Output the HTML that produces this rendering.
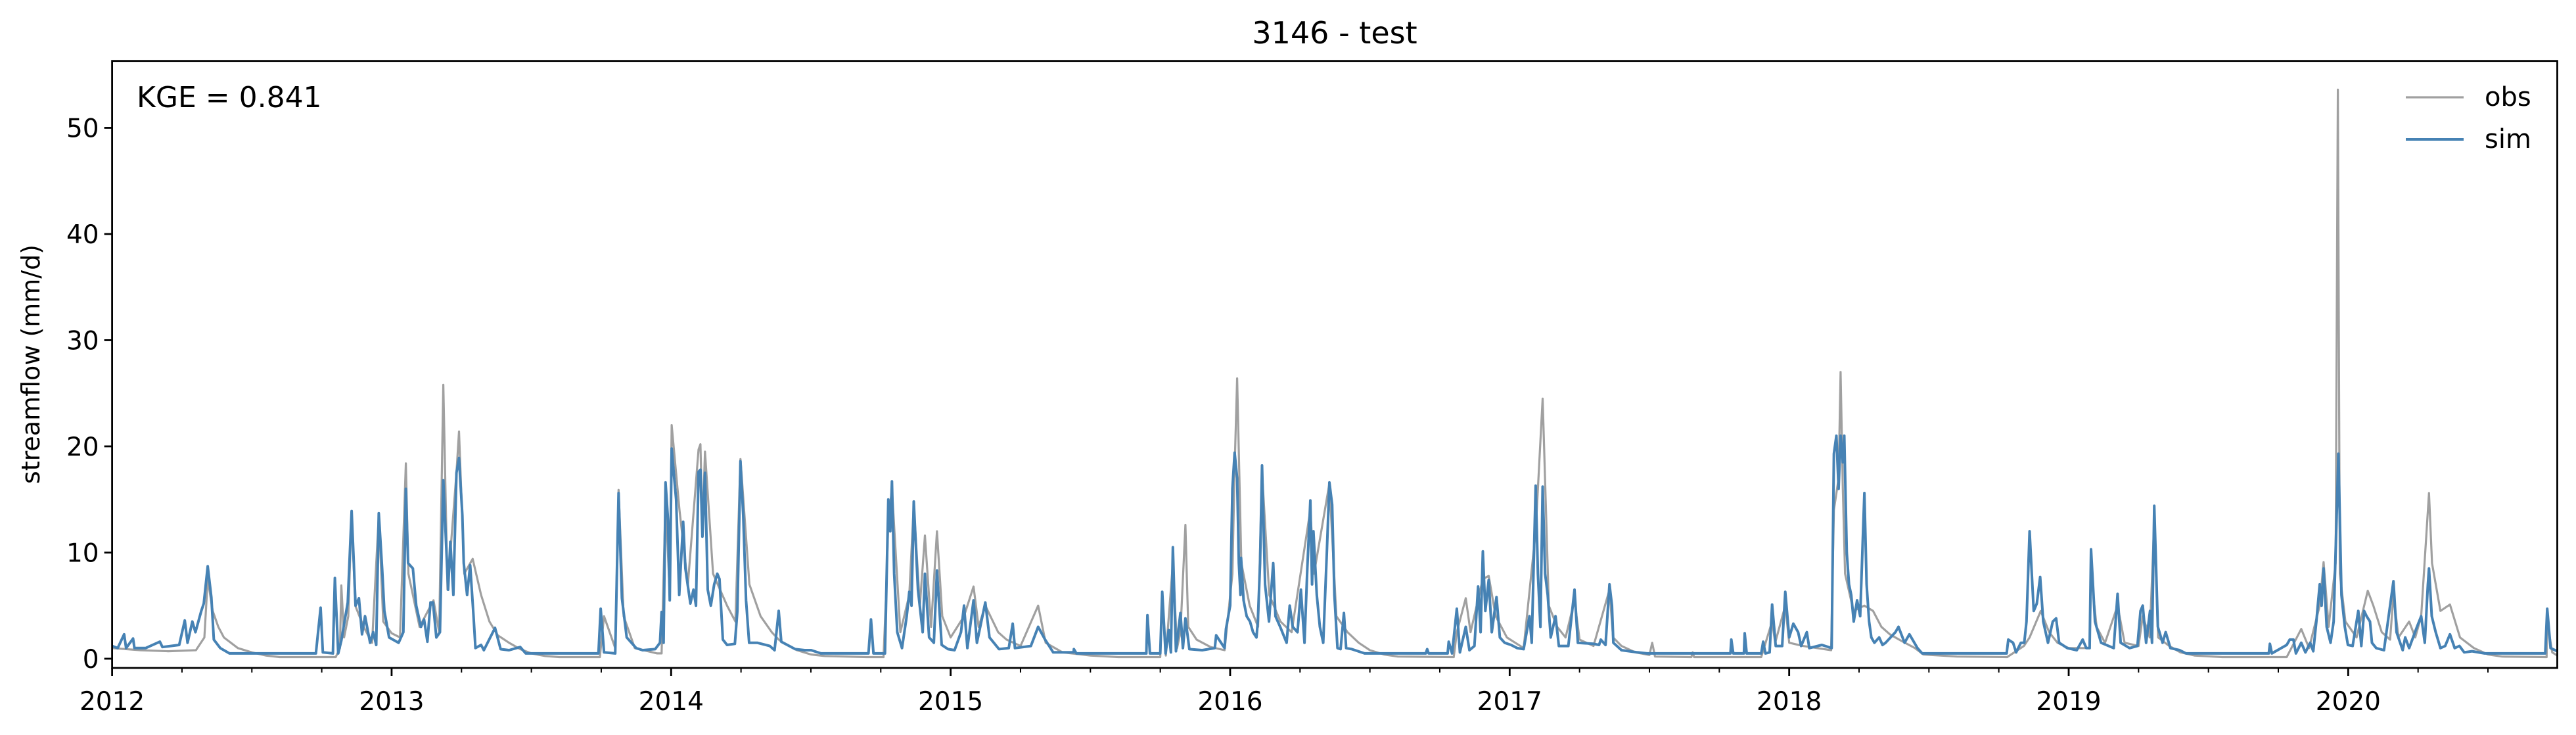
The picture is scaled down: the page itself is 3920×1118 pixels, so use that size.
<!DOCTYPE html>
<html><head><meta charset="utf-8"><title>3146 - test</title>
<style>
html,body{margin:0;padding:0;background:#fff;}
svg{display:block;font-family:"DejaVu Sans","Liberation Sans",sans-serif;}
</style></head>
<body>
<svg id="chart" width="3920" height="1118" viewBox="0 0 3920 1118" xmlns="http://www.w3.org/2000/svg">
<rect width="3920" height="1118" fill="#fff"/>
<text x="2031" y="66" font-size="46" text-anchor="middle" fill="#000">3146 - test</text>
<text transform="translate(60,554) rotate(-90)" font-size="38" text-anchor="middle" fill="#000">streamflow (mm/d)</text>
<g id="plot"></g>
<g id="axes"></g>
<text x="208" y="163" font-size="44" fill="#000">KGE = 0.841</text>
<g>
<g><line x1="3661" y1="148" x2="3749" y2="148" stroke="#a0a0a0" stroke-width="3.2"/><text x="3781" y="161" font-size="40" fill="#000">obs</text></g>
<g><line x1="3661" y1="212" x2="3749" y2="212" stroke="#4682b4" stroke-width="4"/><text x="3781" y="225" font-size="40" fill="#000">sim</text></g>
</g>
</svg>
<script>
const yTicks = [0, 10, 20, 30, 40, 50];
const xYears = [2012, 2013, 2014, 2015, 2016, 2017, 2018, 2019, 2020];
const simData = [[2012.00,1.2],[2012.02,1.0],[2012.043,2.3],[2012.05,1.0],[2012.075,1.9],[2012.08,1.0],[2012.12,1.0],[2012.171,1.6],[2012.18,1.1],[2012.24,1.3],[2012.26,3.6],[2012.27,1.5],[2012.287,3.5],[2012.298,2.5],[2012.319,4.5],[2012.328,5.2],[2012.342,8.7],[2012.355,5.8],[2012.364,1.8],[2012.387,1.0],[2012.42,0.5],[2012.729,0.5],[2012.746,4.8],[2012.754,0.6],[2012.79,0.5],[2012.797,7.6],[2012.809,0.5],[2012.82,1.7],[2012.843,5.3],[2012.857,13.9],[2012.871,5.0],[2012.883,5.7],[2012.894,2.3],[2012.905,4.0],[2012.923,1.5],[2012.934,2.5],[2012.945,1.3],[2012.954,13.7],[2012.966,8.5],[2012.974,4.5],[2012.991,2.0],[2013.025,1.5],[2013.042,2.5],[2013.051,16.0],[2013.059,9.0],[2013.076,8.5],[2013.088,5.0],[2013.105,3.0],[2013.116,3.7],[2013.128,1.6],[2013.139,5.3],[2013.148,5.3],[2013.16,2.0],[2013.173,2.5],[2013.185,16.8],[2013.202,6.5],[2013.21,11.0],[2013.221,6.0],[2013.232,17.5],[2013.241,18.9],[2013.253,13.5],[2013.258,9.0],[2013.27,6.0],[2013.281,8.8],[2013.293,4.0],[2013.30,1.0],[2013.32,1.3],[2013.33,0.8],[2013.37,2.9],[2013.39,0.9],[2013.42,0.8],[2013.46,1.1],[2013.48,0.5],[2013.74,0.5],[2013.748,4.7],[2013.76,0.6],[2013.80,0.5],[2013.812,15.6],[2013.824,5.7],[2013.841,2.0],[2013.875,1.0],[2013.898,0.8],[2013.943,0.9],[2013.96,1.5],[2013.966,4.4],[2013.973,1.5],[2013.98,16.6],[2013.989,13.0],[2013.995,5.5],[2014.002,19.8],[2014.011,17.0],[2014.018,15.0],[2014.029,6.0],[2014.043,12.9],[2014.051,8.5],[2014.059,7.0],[2014.069,5.2],[2014.08,6.5],[2014.089,5.0],[2014.098,17.6],[2014.105,17.8],[2014.112,11.5],[2014.121,17.5],[2014.131,6.5],[2014.142,5.0],[2014.154,7.0],[2014.165,8.0],[2014.173,7.5],[2014.185,1.8],[2014.20,1.3],[2014.228,1.4],[2014.237,4.5],[2014.248,18.6],[2014.258,13.5],[2014.268,5.5],[2014.279,1.5],[2014.308,1.5],[2014.353,1.2],[2014.37,0.8],[2014.385,4.5],[2014.394,1.6],[2014.444,0.9],[2014.478,0.8],[2014.501,0.8],[2014.536,0.5],[2014.706,0.5],[2014.715,3.7],[2014.724,0.5],[2014.765,0.5],[2014.777,15.0],[2014.784,12.0],[2014.79,16.7],[2014.798,8.0],[2014.809,2.5],[2014.826,1.0],[2014.843,4.0],[2014.852,6.3],[2014.86,5.0],[2014.868,14.8],[2014.883,6.5],[2014.90,2.5],[2014.908,8.0],[2014.923,2.0],[2014.94,1.5],[2014.951,8.3],[2014.968,1.3],[2014.991,0.9],[2015.014,0.8],[2015.037,2.5],[2015.048,5.0],[2015.06,1.0],[2015.082,5.5],[2015.094,1.5],[2015.124,5.3],[2015.139,2.0],[2015.173,0.9],[2015.208,1.0],[2015.222,3.3],[2015.23,1.0],[2015.287,1.2],[2015.313,3.0],[2015.338,1.8],[2015.367,0.6],[2015.44,0.6],[2015.441,0.9],[2015.45,0.5],[2015.70,0.5],[2015.704,4.1],[2015.713,0.5],[2015.75,0.5],[2015.757,6.3],[2015.769,0.5],[2015.78,2.7],[2015.788,0.6],[2015.795,10.5],[2015.806,0.7],[2015.822,4.3],[2015.831,1.0],[2015.84,3.8],[2015.854,0.9],[2015.90,0.8],[2015.945,1.0],[2015.95,2.2],[2015.98,1.0],[2015.985,2.8],[2016.00,5.0],[2016.008,16.0],[2016.016,19.4],[2016.025,17.0],[2016.031,9.0],[2016.037,6.0],[2016.039,9.5],[2016.048,5.5],[2016.059,4.0],[2016.071,3.5],[2016.082,2.5],[2016.094,2.0],[2016.099,3.5],[2016.107,9.0],[2016.114,18.2],[2016.125,7.0],[2016.139,3.5],[2016.154,9.0],[2016.162,4.0],[2016.179,3.0],[2016.202,1.5],[2016.213,5.0],[2016.224,3.0],[2016.241,2.5],[2016.253,6.5],[2016.266,1.5],[2016.276,8.5],[2016.287,14.9],[2016.293,7.0],[2016.298,12.0],[2016.31,6.0],[2016.321,3.0],[2016.333,1.5],[2016.346,10.0],[2016.355,16.6],[2016.365,14.5],[2016.373,6.0],[2016.384,1.0],[2016.395,0.9],[2016.407,4.3],[2016.415,1.0],[2016.435,0.9],[2016.481,0.5],[2016.70,0.5],[2016.705,0.9],[2016.71,0.5],[2016.778,0.5],[2016.782,1.6],[2016.794,0.5],[2016.811,4.7],[2016.822,0.6],[2016.843,3.0],[2016.856,0.8],[2016.874,1.2],[2016.887,6.8],[2016.896,2.5],[2016.904,10.1],[2016.913,4.5],[2016.925,7.4],[2016.936,2.5],[2016.953,5.8],[2016.965,2.0],[2016.982,1.5],[2017.005,1.3],[2017.027,1.0],[2017.05,0.9],[2017.071,4.0],[2017.079,1.5],[2017.093,16.3],[2017.101,8.0],[2017.11,3.0],[2017.118,16.2],[2017.127,8.0],[2017.136,6.0],[2017.147,2.0],[2017.164,4.0],[2017.176,1.2],[2017.21,1.2],[2017.232,6.5],[2017.244,1.5],[2017.30,1.4],[2017.32,1.3],[2017.326,1.8],[2017.343,1.3],[2017.357,7.0],[2017.366,5.0],[2017.371,1.5],[2017.40,0.8],[2017.457,0.6],[2017.491,0.5],[2017.79,0.5],[2017.793,1.8],[2017.80,0.5],[2017.838,0.5],[2017.841,2.4],[2017.848,0.5],[2017.90,0.5],[2017.907,1.6],[2017.915,0.5],[2017.93,0.6],[2017.939,5.1],[2017.952,1.2],[2017.975,1.2],[2017.986,6.3],[2018.00,2.0],[2018.015,3.3],[2018.032,2.5],[2018.043,1.2],[2018.063,2.5],[2018.072,1.0],[2018.117,1.3],[2018.152,1.0],[2018.16,19.3],[2018.169,21.0],[2018.177,16.0],[2018.184,21.0],[2018.192,18.5],[2018.197,21.0],[2018.206,10.0],[2018.214,7.0],[2018.222,6.0],[2018.231,3.5],[2018.243,5.5],[2018.254,4.0],[2018.269,15.6],[2018.277,7.0],[2018.286,3.5],[2018.294,2.0],[2018.305,1.5],[2018.322,2.0],[2018.334,1.3],[2018.345,1.5],[2018.38,2.5],[2018.391,3.0],[2018.413,1.5],[2018.43,2.3],[2018.459,1.0],[2018.476,0.5],[2018.778,0.5],[2018.784,1.8],[2018.801,1.5],[2018.812,0.6],[2018.829,1.5],[2018.841,1.5],[2018.849,3.5],[2018.86,12.0],[2018.875,4.5],[2018.886,5.2],[2018.898,7.7],[2018.909,3.5],[2018.926,1.5],[2018.943,3.5],[2018.955,3.8],[2018.966,1.5],[2018.995,1.0],[2019.029,0.8],[2019.05,1.8],[2019.063,1.0],[2019.075,1.0],[2019.08,10.3],[2019.094,3.5],[2019.116,1.5],[2019.161,1.0],[2019.175,6.1],[2019.186,1.5],[2019.218,1.0],[2019.246,1.2],[2019.257,4.5],[2019.265,5.0],[2019.277,1.5],[2019.291,4.5],[2019.298,1.5],[2019.306,14.4],[2019.319,3.0],[2019.336,1.5],[2019.347,2.5],[2019.364,1.0],[2019.397,0.8],[2019.42,0.5],[2019.716,0.5],[2019.72,1.4],[2019.727,0.5],[2019.78,1.3],[2019.791,1.8],[2019.804,1.8],[2019.813,0.5],[2019.832,1.5],[2019.847,0.6],[2019.864,1.5],[2019.875,0.7],[2019.886,3.5],[2019.898,7.0],[2019.905,5.0],[2019.912,8.5],[2019.923,3.0],[2019.937,1.5],[2019.948,3.5],[2019.957,12.0],[2019.965,19.3],[2019.976,6.0],[2019.988,3.0],[2019.999,1.3],[2020.016,1.2],[2020.036,4.5],[2020.047,1.2],[2020.057,4.5],[2020.066,4.0],[2020.078,3.5],[2020.085,1.5],[2020.10,1.0],[2020.128,0.8],[2020.162,7.3],[2020.173,2.5],[2020.195,0.8],[2020.204,2.0],[2020.218,1.0],[2020.246,3.0],[2020.261,4.0],[2020.274,1.5],[2020.285,7.0],[2020.289,8.5],[2020.299,4.0],[2020.313,2.5],[2020.33,1.0],[2020.347,1.2],[2020.364,2.3],[2020.381,1.0],[2020.398,1.2],[2020.415,0.6],[2020.443,0.7],[2020.488,0.5],[2020.705,0.5],[2020.712,4.7],[2020.724,1.0],[2020.748,0.7]];
const obsData = [[2012.00,1.0],[2012.10,0.8],[2012.20,0.7],[2012.30,0.8],[2012.33,2.0],[2012.342,7.5],[2012.36,4.5],[2012.38,3.0],[2012.40,2.0],[2012.45,1.0],[2012.50,0.6],[2012.55,0.3],[2012.60,0.15],[2012.80,0.15],[2012.815,1.0],[2012.82,6.9],[2012.83,2.0],[2012.845,4.0],[2012.857,13.8],[2012.87,5.0],[2012.90,3.0],[2012.93,1.5],[2012.954,13.5],[2012.97,3.5],[2013.00,2.4],[2013.03,2.0],[2013.051,18.4],[2013.06,8.0],[2013.10,3.0],[2013.15,5.5],[2013.17,2.5],[2013.185,25.8],[2013.20,6.5],[2013.232,17.5],[2013.241,21.4],[2013.26,8.0],[2013.29,9.4],[2013.32,6.0],[2013.35,3.5],[2013.38,2.2],[2013.42,1.5],[2013.46,0.9],[2013.50,0.5],[2013.55,0.25],[2013.60,0.15],[2013.745,0.15],[2013.76,4.0],[2013.80,1.0],[2013.812,15.9],[2013.83,4.0],[2013.87,1.0],[2013.95,0.5],[2013.966,0.5],[2013.98,15.0],[2013.995,6.0],[2014.002,22.0],[2014.03,14.0],[2014.06,7.0],[2014.098,19.7],[2014.105,20.2],[2014.112,12.0],[2014.121,19.5],[2014.15,8.0],[2014.20,5.0],[2014.23,3.5],[2014.248,18.8],[2014.28,7.0],[2014.32,4.0],[2014.36,2.5],[2014.385,1.8],[2014.40,1.5],[2014.45,0.8],[2014.50,0.4],[2014.55,0.25],[2014.70,0.15],[2014.76,0.15],[2014.769,6.0],[2014.777,13.0],[2014.79,16.0],[2014.82,2.5],[2014.852,6.0],[2014.868,14.5],[2014.89,5.0],[2014.908,11.6],[2014.93,3.0],[2014.951,12.0],[2014.97,4.0],[2015.00,2.0],[2015.048,4.0],[2015.082,6.8],[2015.10,3.0],[2015.124,5.0],[2015.17,2.5],[2015.20,1.8],[2015.25,1.2],[2015.313,5.0],[2015.34,1.5],[2015.40,0.6],[2015.50,0.3],[2015.60,0.15],[2015.75,0.15],[2015.757,5.5],[2015.77,0.3],[2015.795,9.0],[2015.81,1.0],[2015.822,2.5],[2015.84,12.6],[2015.85,3.0],[2015.88,1.8],[2015.93,1.1],[2015.98,0.8],[2016.008,8.0],[2016.016,18.0],[2016.025,26.4],[2016.04,9.0],[2016.07,5.0],[2016.10,3.0],[2016.114,17.5],[2016.14,6.0],[2016.18,3.5],[2016.22,2.5],[2016.287,14.0],[2016.30,8.0],[2016.355,16.5],[2016.38,4.0],[2016.42,2.5],[2016.46,1.5],[2016.50,0.8],[2016.55,0.4],[2016.60,0.2],[2016.80,0.15],[2016.811,2.5],[2016.843,5.7],[2016.86,2.5],[2016.904,7.5],[2016.925,7.8],[2016.95,4.0],[2016.99,2.0],[2017.05,1.0],[2017.093,12.0],[2017.118,24.5],[2017.14,5.0],[2017.17,3.0],[2017.20,2.0],[2017.232,5.5],[2017.25,1.8],[2017.30,1.2],[2017.357,6.5],[2017.37,2.0],[2017.40,1.2],[2017.45,0.6],[2017.50,0.35],[2017.51,1.5],[2017.52,0.2],[2017.65,0.15],[2017.655,0.6],[2017.66,0.15],[2017.90,0.15],[2017.939,3.5],[2017.95,1.5],[2017.986,5.0],[2018.00,1.5],[2018.05,1.2],[2018.10,1.0],[2018.15,0.8],[2018.16,14.0],[2018.177,17.0],[2018.184,27.0],[2018.192,16.0],[2018.20,8.0],[2018.23,4.5],[2018.269,5.0],[2018.30,4.5],[2018.33,3.0],[2018.36,2.3],[2018.40,1.7],[2018.45,1.0],[2018.48,0.4],[2018.60,0.2],[2018.78,0.15],[2018.84,1.2],[2018.86,2.0],[2018.90,4.5],[2018.93,2.5],[2018.96,1.5],[2019.00,1.0],[2019.075,1.0],[2019.08,8.0],[2019.10,3.0],[2019.13,1.5],[2019.175,5.0],[2019.20,1.5],[2019.25,1.2],[2019.265,4.0],[2019.29,2.0],[2019.306,13.0],[2019.32,2.0],[2019.36,1.2],[2019.40,0.6],[2019.45,0.3],[2019.55,0.15],[2019.78,0.15],[2019.832,2.8],[2019.86,1.0],[2019.898,5.0],[2019.912,9.1],[2019.93,3.0],[2019.955,9.0],[2019.963,53.6],[2019.97,8.0],[2019.99,3.5],[2020.03,2.0],[2020.07,6.4],[2020.09,5.0],[2020.12,2.5],[2020.15,1.8],[2020.162,6.0],[2020.18,2.0],[2020.218,3.5],[2020.24,2.0],[2020.261,4.0],[2020.289,15.6],[2020.30,9.0],[2020.33,4.5],[2020.364,5.1],[2020.40,2.0],[2020.45,1.0],[2020.50,0.4],[2020.55,0.2],[2020.71,0.15],[2020.712,3.5],[2020.73,0.6],[2020.748,0.3]];

const X0 = 170.6, X1 = 3891.5, Y0 = 92.7, Y1 = 1016;
const T0 = 2012, T1 = 2020.748, V0 = -0.87, V1 = 56.3;
function xs(t){ return X0 + (t - T0) / (T1 - T0) * (X1 - X0); }
function ys(v){ return Y1 - (v - V0) / (V1 - V0) * (Y1 - Y0); }
const NS = 'http://www.w3.org/2000/svg';
const plot = document.getElementById('plot');
const axes = document.getElementById('axes');

function series(data, color, w, name){
  let d = '';
  data.forEach((p, i) => { d += (i ? 'L' : 'M') + xs(p[0]).toFixed(1) + ',' + ys(p[1]).toFixed(1); });
  const p = document.createElementNS(NS, 'path');
  p.setAttribute('d', d);
  p.setAttribute('fill', 'none');
  p.setAttribute('stroke', color);
  p.setAttribute('stroke-width', w);
  p.setAttribute('stroke-linejoin', 'round');
  
  
  plot.appendChild(p);
}
series(obsData, '#a0a0a0', 3.2, 'obs-line');
series(simData, '#4682b4', 4, 'sim-line');

function line(x1,y1,x2,y2,w){
  const l = document.createElementNS(NS,'line');
  l.setAttribute('x1',x1);l.setAttribute('y1',y1);l.setAttribute('x2',x2);l.setAttribute('y2',y2);
  l.setAttribute('stroke','#000');l.setAttribute('stroke-width',w);
  return l;
}
const frame = document.createElementNS(NS,'rect');
frame.setAttribute('x',X0);frame.setAttribute('y',Y0);frame.setAttribute('width',X1-X0);frame.setAttribute('height',Y1-Y0);
frame.setAttribute('fill','none');frame.setAttribute('stroke','#000');frame.setAttribute('stroke-width',2.8);


axes.appendChild(frame);

yTicks.forEach(v => {
  const y = ys(v);
  const t = line(X0 - 12, y, X0, y, 2.8);
  
  
  axes.appendChild(t);
  const tx = document.createElementNS(NS,'text');
  tx.setAttribute('x', X0 - 20); tx.setAttribute('y', y + 14);
  tx.setAttribute('font-size', 39); tx.setAttribute('text-anchor', 'end');
  tx.textContent = v;
  
  
  axes.appendChild(tx);
});

xYears.forEach(yr => {
  const x = xs(yr);
  const t = line(x, Y1, x, Y1 + 12, 2.8);
  
  
  axes.appendChild(t);
  const tx = document.createElementNS(NS,'text');
  tx.setAttribute('x', x); tx.setAttribute('y', 1080);
  tx.setAttribute('font-size', 39); tx.setAttribute('text-anchor', 'middle');
  tx.textContent = yr;
  
  
  axes.appendChild(tx);
  for (let q = 1; q < 4; q++) {
    const tq = yr + q * 0.25;
    if (tq > T1) continue;
    const m = line(xs(tq), Y1, xs(tq), Y1 + 7, 2);
    
    
    axes.appendChild(m);
  }
});
</script>
</body></html>
